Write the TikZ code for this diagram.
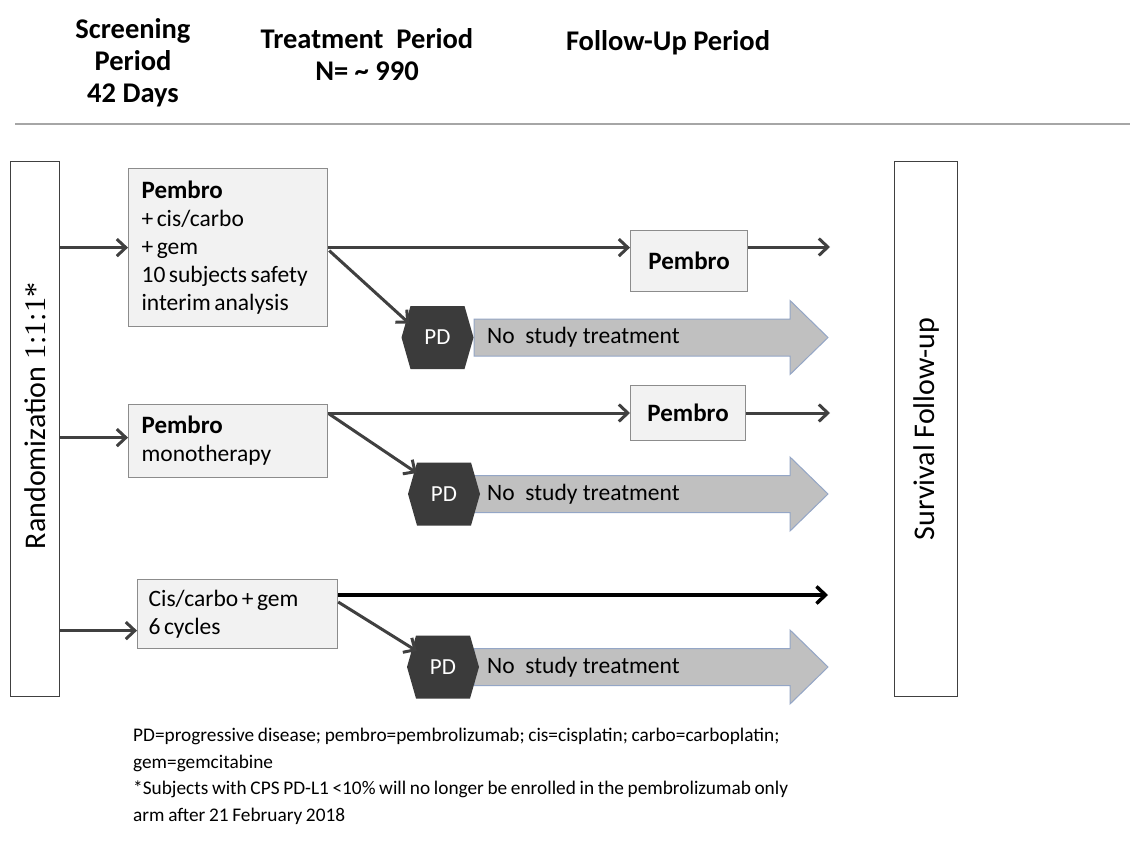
\documentclass[tikz,border=0pt]{standalone}
\usepackage{fontspec}
\setmainfont{Carlito}
\newfontfamily\numfont{Liberation Serif}
\usetikzlibrary{arrows.meta,calc}
\definecolor{boxfill}{HTML}{F2F2F2}
\definecolor{boxline}{HTML}{8C8C8C}
\definecolor{conn}{HTML}{404040}
\definecolor{hexfill}{HTML}{3B3B3B}
\definecolor{bigfill}{HTML}{C0C0C0}
\definecolor{bigline}{HTML}{94A6C6}
\definecolor{rule}{HTML}{A6A6A6}
\newcommand{\pb}[1]{{\fontsize{25}{28}\selectfont\bfseries #1}}
\newcommand{\tightsp}{\spaceskip=0.15em plus 0.05em minus 0.02em\relax}
\newcommand{\footsp}{\spaceskip=0.19em plus 0.05em minus 0.02em\relax}
\tikzset{
  hdr/.style={font=\fontsize{28.5}{32}\selectfont\bfseries, align=center, inner sep=0},
  armbox/.style={draw=boxline, fill=boxfill, line width=1.2pt, anchor=north west,
     align=left, inner xsep=13pt, inner ysep=0pt, font=\fontsize{23.5}{28}\selectfont},
  pbox/.style={draw=boxline, fill=boxfill, line width=1.2pt, anchor=north west,
     inner sep=0pt, font=\fontsize{25}{28}\selectfont\bfseries},
  tallbox/.style={draw=conn, line width=1.2pt, fill=white, anchor=north west, inner sep=0pt},
  vtext/.style={rotate=90, font=\fontsize{30}{34}\selectfont, inner sep=0},
  link/.style={draw=conn, line width=3pt, -{Straight Barb[length=9pt,width=17pt]}},
  blacklink/.style={draw=black, line width=3.5pt, -{Straight Barb[length=9pt,width=17pt]}},
  pdtext/.style={text=white, font=\fontsize{23}{24}\selectfont, inner sep=0, minimum width=72pt, minimum height=63pt},
  bigtext/.style={anchor=west, font=\fontsize{23.5}{26}\selectfont, inner sep=0},
  foot/.style={anchor=north west, align=left, inner sep=0, font=\fontsize{19.3}{26.5}\selectfont\footsp}
}
\newcommand{\hexpd}[3]{%
  \fill[bigfill, draw=bigline, line width=1pt]
    (474,#3-18.5) -- (790,#3-18.5) -- (790,#3-37) -- (828,#3) -- (790,#3+37) -- (790,#3+18.5) -- (474,#3+18.5) -- cycle;
  \fill[hexfill] (#2-36,#3) -- (#2-27,#3-31.5) -- (#2+27,#3-31.5) -- (#2+36,#3) -- (#2+27,#3+31.5) -- (#2-27,#3+31.5) -- cycle;
  \node[pdtext] (#1) at (#2,#3) {PD};
  \node[bigtext] (#1t) at (487,#3) {No\ \ study treatment};
}
\begin{document}
\begin{tikzpicture}[x=1pt,y=-1pt]
\useasboundingbox[fill=white] (0,0) rectangle (1130,843);

% header
\node[hdr] (hscr) at (133,63) {Screening\\Period\\42 Days};
\node[hdr] (htrt) at (367,55) {Treatment\ \ Period\\N= \textasciitilde{} 990};
\node[hdr] (hfu) at (668,43) {Follow-Up Period};
\draw[rule, line width=2pt] (15,124) -- (1130,124);

% side boxes
\node[tallbox, minimum width=49pt, minimum height=535pt] (rand) at (10,161) {};
\node[vtext] (randt) at (35,416) {Randomization {\numfont 1:1:1*}};
\node[tallbox, minimum width=63pt, minimum height=535pt] (surv) at (894,161) {};
\node[vtext] (survt) at (surv.center) {Survival Follow-up};

% arm boxes
\node[armbox, text width=173pt, minimum height=158pt] (b1) at (128,168)
  {\tightsp\pb{Pembro}\\+ cis/carbo\\+ gem\\10 subjects safety\\interim analysis};
\node[armbox, text width=173pt, minimum height=73pt] (b2) at (128,404)
  {\tightsp\pb{Pembro}\\monotherapy};
\node[armbox, inner xsep=11pt, text width=178pt, minimum height=69pt] (b3) at (137,579)
  {\tightsp Cis/carbo + gem\\6 cycles};

\node[pbox, minimum width=117pt, minimum height=61pt] (p1) at (630,230) {\raisebox{-6pt}{Pembro}};
\node[pbox, minimum width=115pt, minimum height=55pt] (p2) at (630,385) {\raisebox{-7pt}{Pembro}};

% PD hexagons and big arrows
\hexpd{pd1}{437.5}{337.5}
\hexpd{pd2}{444}{494}
\hexpd{pd3}{443}{667}

% coordinates
\coordinate (e1) at (830,247);
\coordinate (e2) at (830,413);
\coordinate (e3) at (828,595);
\coordinate (b2o) at ($(b2.north east)+(0,9)$);
\coordinate (b3o) at ($(b3.north east)+(0,16)$);
\coordinate (r2) at ($(rand.east |- b2.west)+(0,-3.5)$);
\coordinate (r3) at ($(rand.east |- b3.west)+(0,16.5)$);

% connectors
\draw[link] (rand.east |- b1.west) -- (b1.west);
\draw[link] (r2) -- (r2 -| b2.west);
\draw[link] (r3) -- (r3 -| b3.west);

\draw[link] (b1.east) -- (b1.east -| p1.west);
\draw[link] (p1.east |- e1) -- (e1);
\draw[link] ($(b1.east)+(1,3)$) -- ($(pd1.west)+(8,-14)$);

\draw[link] (b2o) -- (b2o -| p2.west);
\draw[link] (p2.east |- e2) -- (e2);
\draw[link] ($(b2o)+(1,1)$) -- ($(pd2.west)+(9,-21)$);

\draw[blacklink] (b3o) -- (e3);
\draw[link] ($(b3o)+(0,7)$) -- ($(pd3.west)+(10,-16)$);

% footer
\node[foot] (fn) at (133,728) {PD=progressive disease; pembro=pembrolizumab; cis=cisplatin; carbo=carboplatin;\\
gem=gemcitabine\\
*Subjects with CPS PD-L1 <10\% will no longer be enrolled in the pembrolizumab only\\
arm after 21 February 2018};
\end{tikzpicture}
\end{document}
